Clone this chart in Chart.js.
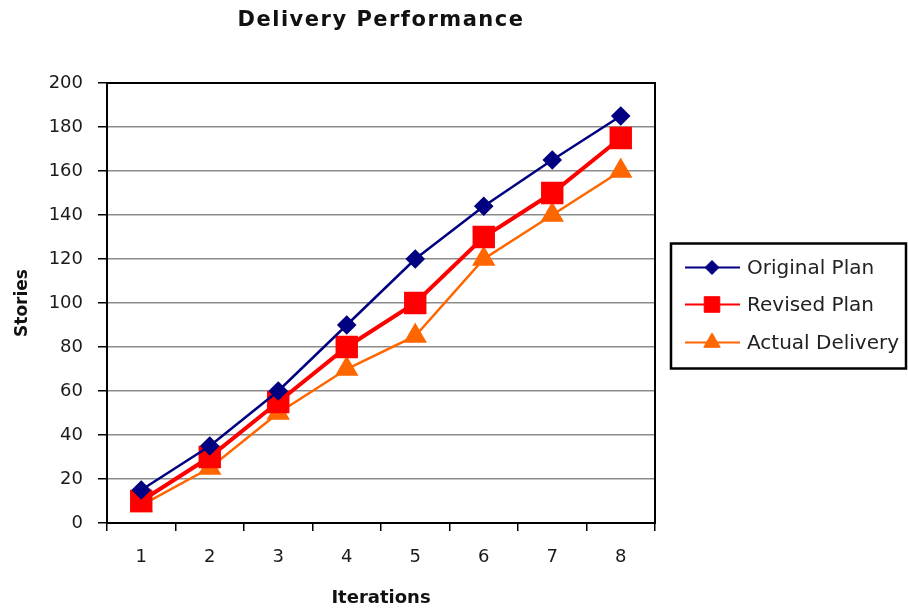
<!DOCTYPE html>
<html>
<head>
<meta charset="utf-8">
<script src="https://cdn.jsdelivr.net/npm/chart.js@4/dist/chart.umd.min.js"></script>
<style>
  html, body { margin: 0; background: #fff; }
  #wrap { width: 908px; height: 612px; }
</style>
</head>
<body>
<div id="wrap"><canvas id="chart"></canvas></div>
<script>
const iterations = ['1', '2', '3', '4', '5', '6', '7', '8']
const originalPlan = [15, 35, 60, 90, 120, 144, 165, 185]
const revisedPlan = [10, 30, 55, 80, 100, 130, 150, 175]
const actualDelivery = [8, 25, 50, 70, 85, 120, 140, 160]
const yMin = 0
const yMax = 200
const yStep = 20

const FONT = "'DejaVu Sans', 'Liberation Sans', sans-serif"

// title drawn by hand so it can get the letter spacing of the original
const titlePlugin = {
  id: 'spacedTitle',
  afterDraw(chart) {
    const {ctx, chartArea} = chart
    ctx.save()
    ctx.font = 'bold 21px ' + FONT
    ctx.fillStyle = '#111'
    ctx.textAlign = 'center'
    ctx.textBaseline = 'middle'
    if ('letterSpacing' in ctx) ctx.letterSpacing = '1.5px'
    ctx.fillText('Delivery Performance', (chartArea.left + chartArea.right) / 2, 21)
    ctx.restore()
  }
}

// black frame round the plot area
const framePlugin = {
  id: 'frame',
  beforeDatasetsDraw(chart) {
    const {ctx, chartArea: a} = chart
    ctx.save()
    ctx.strokeStyle = '#000'
    ctx.lineWidth = 2
    ctx.strokeRect(a.left, a.top, a.right - a.left, a.bottom - a.top)
    ctx.restore()
  }
}

// boxed legend with line + marker samples
const boxLegend = {
  id: 'boxLegend',
  afterDraw(chart) {
    const {ctx, chartArea: a} = chart
    const left = a.right + 16
    const w = 235, h = 125
    const top = (a.top + a.bottom) / 2 - h / 2 + 3
    ctx.save()
    ctx.strokeStyle = '#000'
    ctx.lineWidth = 2.5
    ctx.strokeRect(left, top, w, h)
    const rows = [24, 61, 99]
    const sizes = [7, 11, 9.5]
    chart.data.datasets.forEach((ds, i) => {
      const y = top + rows[i]
      ctx.strokeStyle = ds.borderColor
      ctx.lineWidth = 2
      ctx.beginPath()
      ctx.moveTo(left + 14, y)
      ctx.lineTo(left + 69, y)
      ctx.stroke()
      ctx.fillStyle = ds.pointBackgroundColor
      ctx.strokeStyle = ds.pointBackgroundColor
      ctx.lineWidth = 1
      Chart.helpers.drawPoint(ctx, {pointStyle: ds.pointStyle, radius: sizes[i], rotation: 0, borderWidth: 1}, left + 41, y)
      ctx.fillStyle = '#222'
      ctx.font = '20px ' + FONT
      ctx.textAlign = 'left'
      ctx.textBaseline = 'middle'
      ctx.fillText(ds.label, left + 76, y + 1)
    })
    ctx.restore()
  }
}

new Chart(document.querySelector('#chart').getContext('2d'), {
  type: 'line',
  data: {
    labels: iterations,
    datasets: [
      {
        label: 'Original Plan',
        data: originalPlan,
        borderColor: '#000080',
        borderWidth: 2.5,
        pointStyle: 'rectRot',
        pointRadius: 8,
        pointBackgroundColor: '#000080',
        pointBorderColor: '#000080',
        tension: 0
      },
      {
        label: 'Revised Plan',
        data: revisedPlan,
        borderColor: '#ff0000',
        borderWidth: 4,
        pointStyle: 'rect',
        pointRadius: 13,
        pointBackgroundColor: '#ff0000',
        pointBorderColor: '#ff0000',
        tension: 0
      },
      {
        label: 'Actual Delivery',
        data: actualDelivery,
        borderColor: '#ff6600',
        borderWidth: 2.5,
        pointStyle: 'triangle',
        pointRadius: 11,
        pointBackgroundColor: '#ff6600',
        pointBorderColor: '#ff6600',
        tension: 0
      }
    ]
  },
  options: {
    responsive: true,
    maintainAspectRatio: false,
    animation: false,
    layout: { padding: { top: 83, right: 253, bottom: 0, left: 0 } },
    plugins: {
      legend: { display: false },
      title: { display: false },
      tooltip: { enabled: false }
    },
    scales: {
      x: {
        type: 'category',
        offset: true,
        grid: { offset: true, drawOnChartArea: false, tickLength: 8, tickColor: '#000', lineWidth: 1.5 },
        border: { color: '#000', width: 2 },
        ticks: { padding: 16, maxRotation: 0, color: '#1a1a1a', font: { family: FONT, size: 18 } },
        title: { display: true, text: 'Iterations', color: '#111', font: { family: FONT, size: 18, weight: 'bold' }, padding: { top: 0, bottom: 3 } },
        afterFit: s => { s.height = 89 }
      },
      y: {
        min: yMin,
        max: yMax,
        ticks: { stepSize: yStep, padding: 15, color: '#1a1a1a', font: { family: FONT, size: 18 } },
        grid: { color: '#8c8c8c', lineWidth: 1.5, tickLength: 9, tickColor: '#000' },
        border: { color: '#000', width: 2 },
        title: { display: true, text: 'Stories', color: '#111', font: { family: FONT, size: 17, weight: 'bold' }, padding: { top: 12, bottom: 0 } },
        afterFit: s => { s.width = 107 }
      }
    }
  },
  plugins: [titlePlugin, framePlugin, boxLegend]
})
</script>
</body>
</html>
